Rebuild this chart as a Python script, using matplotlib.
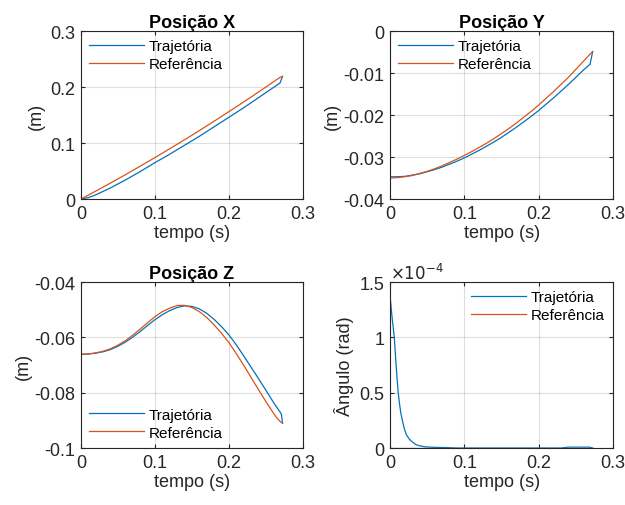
import numpy as np
import matplotlib
matplotlib.use("Agg")
from matplotlib import pyplot as plt
from matplotlib.ticker import FormatStrFormatter

plt.rcParams['font.family'] = ['Liberation Sans', 'DejaVu Sans']
plt.rcParams['axes.unicode_minus'] = False

##data
t_x = [0, 0.01, 0.02, 0.04, 0.06, 0.08, 0.10, 0.12, 0.14, 0.16, 0.18, 0.20, 0.22, 0.24, 0.26, 0.269, 0.2725]
x_traj = [0, 0.0025, 0.0075, 0.020, 0.034, 0.049, 0.065, 0.080, 0.096, 0.112, 0.129, 0.146, 0.163, 0.181, 0.199, 0.207, 0.219]
x_ref = [0, 0.0070, 0.0142, 0.0286, 0.0434, 0.0586, 0.074, 0.0898, 0.1058, 0.1222, 0.139, 0.156, 0.1734, 0.191, 0.209, 0.2172, 0.219]

t_y = [0, 0.01, 0.02, 0.03, 0.04, 0.05, 0.06, 0.07, 0.08, 0.09, 0.10, 0.11, 0.12, 0.13, 0.14,
       0.15, 0.16, 0.17, 0.18, 0.19, 0.20, 0.21, 0.22, 0.23, 0.24, 0.25, 0.26, 0.269, 0.2725]
y_traj = [-0.0347, -0.0347, -0.0346, -0.0343, -0.0340, -0.0335, -0.0330, -0.0324, -0.0317, -0.0310,
          -0.0302, -0.0293, -0.0284, -0.0274, -0.0264, -0.0253, -0.0241, -0.0229, -0.0216, -0.0203,
          -0.0189, -0.0174, -0.0159, -0.0143, -0.0127, -0.0110, -0.0093, -0.0079, -0.0049]
y_ref = [-0.0350, -0.0349, -0.0347, -0.0344, -0.0339, -0.0334, -0.0328, -0.0321, -0.0313, -0.0305,
         -0.0296, -0.0287, -0.0277, -0.0267, -0.0256, -0.0244, -0.0232, -0.0219, -0.0205, -0.0191,
         -0.0176, -0.0160, -0.0144, -0.0127, -0.0110, -0.0091, -0.0072, -0.0055, -0.0049]

t_z = [0, 0.01, 0.02, 0.03, 0.04, 0.05, 0.06, 0.07, 0.08, 0.09, 0.10, 0.11, 0.12, 0.13, 0.14,
       0.15, 0.16, 0.17, 0.18, 0.19, 0.20, 0.21, 0.22, 0.23, 0.24, 0.25, 0.26, 0.265, 0.27, 0.271, 0.2725]
z_traj = [-0.0661, -0.0660, -0.0657, -0.0652, -0.0644, -0.0632, -0.0617, -0.0599, -0.0579, -0.0557,
          -0.0536, -0.0518, -0.0503, -0.0492, -0.0486, -0.0488, -0.0497, -0.0513, -0.0535, -0.0561,
          -0.0591, -0.0627, -0.0667, -0.0708, -0.0749, -0.0791, -0.0834, -0.0854, -0.0873, -0.0878, -0.0911]
z_ref = [-0.0661, -0.0660, -0.0656, -0.0650, -0.0641, -0.0628, -0.0612, -0.0592, -0.0570, -0.0547,
         -0.0525, -0.0507, -0.0494, -0.0485, -0.0484, -0.0492, -0.0507, -0.0528, -0.0555, -0.0585,
         -0.0619, -0.0659, -0.0701, -0.0745, -0.0789, -0.0832, -0.0873, -0.0892, -0.0906, -0.0908, -0.0909]

t_ang = [0, 0.0003, 0.0022, 0.0036, 0.0058, 0.008, 0.0095, 0.011, 0.013, 0.0147, 0.019, 0.022, 0.026,
         0.03, 0.035, 0.04, 0.048, 0.06, 0.077, 0.09, 0.23, 0.24, 0.268, 0.2725]
ang_traj = [1.5, 1.36, 1.22, 1.13, 1.0, 0.77, 0.63, 0.5, 0.39, 0.31, 0.18, 0.12, 0.08,
            0.055, 0.03, 0.02, 0.01, 0.006, 0.004, 0.0, 0.0, 0.008, 0.008, 0.0]  # x1e-4 rad
ang_ref = [0.0] * len(t_ang)

blue = '#0072BD'
orange = '#D95319'
axcol = '#262626'

fig = plt.figure(figsize=(6.25, 5.06), dpi=100)
ax1 = fig.add_axes([0.1296, 0.6047, 0.355, 0.332])
ax2 = fig.add_axes([0.624, 0.6047, 0.357, 0.332])
ax3 = fig.add_axes([0.1296, 0.1126, 0.355, 0.328])
ax4 = fig.add_axes([0.624, 0.1126, 0.357, 0.328])


def style(ax, ylim, yticks):
    ax.set_xlim(0, 0.3)
    ax.set_xticks([0, 0.1, 0.2, 0.3])
    ax.set_ylim(*ylim)
    ax.set_yticks(yticks)
    ax.xaxis.set_major_formatter(FormatStrFormatter('%g'))
    ax.yaxis.set_major_formatter(FormatStrFormatter('%g'))
    ax.grid(True, color=axcol, alpha=0.15, linewidth=0.8)
    ax.tick_params(direction='in', labelsize=13, length=3, color=axcol,
                   top=True, right=True, labelcolor=axcol, pad=4)
    for s in ax.spines.values():
        s.set_color(axcol)
        s.set_linewidth(0.8)
    ax.set_xlabel('tempo (s)', fontsize=13, color=axcol, labelpad=2)


def leg(ax, loc):
    ax.legend(loc=loc, frameon=False, fontsize=11, handlelength=3.6,
              borderaxespad=0.15, labelspacing=0.25, handletextpad=0.3)


ax1.plot(t_x, x_traj, color=blue, lw=0.9, label='Trajetória')
ax1.plot(t_x, x_ref, color=orange, lw=0.9, label='Referência')
style(ax1, (0, 0.3), [0, 0.1, 0.2, 0.3])
ax1.set_ylabel('(m)', fontsize=13, color=axcol, labelpad=4)
ax1.set_title('Posição X', fontsize=13, fontweight='bold', pad=3)
leg(ax1, 'upper left')

ax2.plot(t_y, y_traj, color=blue, lw=0.9, label='Trajetória')
ax2.plot(t_y, y_ref, color=orange, lw=0.9, label='Referência')
style(ax2, (-0.04, 0), [-0.04, -0.03, -0.02, -0.01, 0])
ax2.set_ylabel('(m)', fontsize=13, color=axcol, labelpad=2)
ax2.set_title('Posição Y', fontsize=13, fontweight='bold', pad=3)
leg(ax2, 'upper left')

ax3.plot(t_z, z_traj, color=blue, lw=0.9, label='Trajetória')
ax3.plot(t_z, z_ref, color=orange, lw=0.9, label='Referência')
style(ax3, (-0.1, -0.04), [-0.1, -0.08, -0.06, -0.04])
ax3.set_ylabel('(m)', fontsize=13, color=axcol, labelpad=2)
ax3.set_title('Posição Z', fontsize=13, fontweight='bold', pad=3)
leg(ax3, 'lower left')

ax4.plot(t_ang, ang_traj, color=blue, lw=0.9, label='Trajetória')
ax4.plot(t_ang, ang_ref, color=orange, lw=0.9, label='Referência')
style(ax4, (0, 1.5), [0, 0.5, 1, 1.5])
ax4.set_ylabel('Ângulo (rad)', fontsize=13, color=axcol, labelpad=4)
ax4.text(0, 1.0, r'$\times10^{-4}$', transform=ax4.transAxes, fontsize=12,
         color=axcol, ha='left', va='bottom')
leg(ax4, 'upper right')

fig.savefig('out.png', dpi=100)
